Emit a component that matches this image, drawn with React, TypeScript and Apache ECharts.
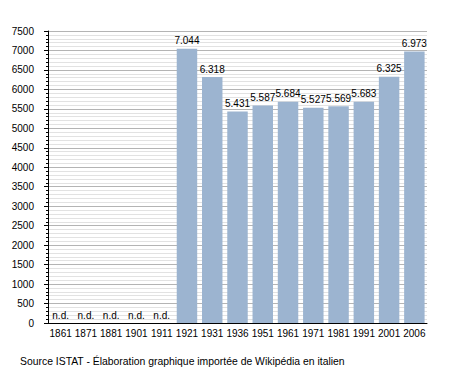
import React, { useEffect, useRef } from "react";
import * as echarts from "echarts";

const categories = ["1861", "1871", "1881", "1901", "1911", "1921", "1931", "1936", "1951", "1961", "1971", "1981", "1991", "2001", "2006"];
const values: (number | null)[] = [null, null, null, null, null, 7044, 6318, 5431, 5587, 5684, 5527, 5569, 5683, 6325, 6973];
const sourceText = "Source ISTAT - Élaboration graphique importée de Wikipédia en italien";

const fmt = (v: number) => {
  const s = String(v);
  return s.length > 3 ? s.slice(0, s.length - 3) + "." + s.slice(-3) : s;
};

export default function App() {
  const ref = useRef<HTMLDivElement>(null);
  useEffect(() => {
    const chart = echarts.init(ref.current!, undefined, { renderer: "svg" });
    const font = "Liberation Sans, Arial, sans-serif";
    chart.setOption({
      animation: false,
      backgroundColor: "#ffffff",
      grid: { left: 48, top: 31, width: 379, height: 292, containLabel: false },
      xAxis: {
        type: "category",
        data: categories,
        axisLine: { show: true, lineStyle: { color: "#000", width: 1 } },
        axisTick: { show: false },
        axisLabel: { color: "#000", fontSize: 10, fontFamily: font, margin: 5, interval: 0 },
        splitLine: { show: false },
      },
      yAxis: {
        type: "value",
        min: 0,
        max: 7500,
        interval: 500,
        axisLine: { show: true, lineStyle: { color: "#000", width: 1 } },
        axisTick: { show: true, length: 4, lineStyle: { color: "#000" } },
        minorTick: { show: true, splitNumber: 5, length: 2, lineStyle: { color: "#000" } },
        axisLabel: { color: "#000", fontSize: 10, fontFamily: font, margin: 14, formatter: (v: number) => String(v) },
        splitLine: { show: true, lineStyle: { color: "#b4b4b4", width: 1 } },
        minorSplitLine: { show: true, lineStyle: { color: "#e2e2e2", width: 1 } },
      },
      series: [
        {
          type: "bar",
          data: values.map((v) => (v === null ? 0 : v)),
          barCategoryGap: "19%",
          itemStyle: { color: "#9cb4d0" },
          label: {
            show: true,
            position: "top",
            distance: 3,
            color: "#000",
            fontSize: 10,
            fontFamily: font,
            formatter: (p: any) => (values[p.dataIndex] === null ? "n.d." : fmt(p.value)),
          },
        },
      ],
      graphic: [
        {
          type: "text",
          left: 20,
          top: 356,
          style: { text: sourceText, fill: "#000", font: "10.4px Liberation Sans, Arial, sans-serif" },
        },
      ],
    });
    return () => chart.dispose();
  }, []);
  return <div ref={ref} style={{ width: 455, height: 373, position: "absolute", left: 0, top: 0 }} />;
}
